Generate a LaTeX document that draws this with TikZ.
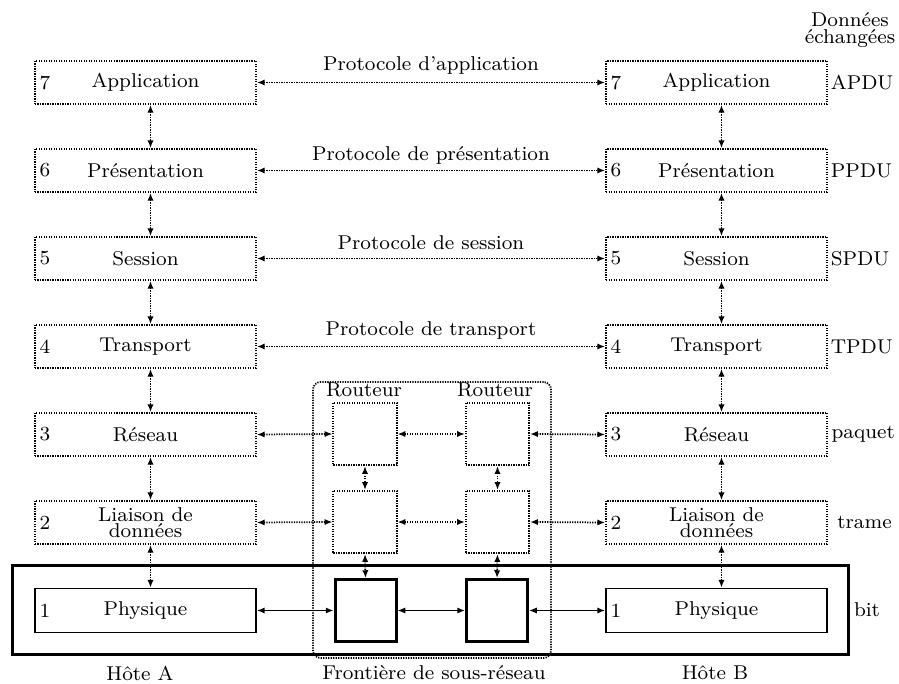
\documentclass[tikz,border=0pt]{standalone}
\usetikzlibrary{arrows.meta}
\begin{document}
\begin{tikzpicture}[x=0.4pt,y=-0.4pt, font=\fontsize{8}{6.6}\selectfont,
 dot/.style={line width=0.7pt, dash pattern=on 0.5pt off 0.5pt},
 layer/.style={dot, draw, minimum width=88.4pt, minimum height=17.2pt, inner sep=0pt, align=center},
 phys/.style={draw, line width=0.7pt, minimum width=88.4pt, minimum height=17.6pt, inner sep=0pt},
 rtr/.style={dot, draw, minimum width=25.4pt, minimum height=25pt, inner sep=0pt},
 prt/.style={draw, line width=1.2pt, minimum width=24.4pt, minimum height=24.8pt, inner sep=0pt},
 tip/.tip={Latex[length=3.1pt,width=2.5pt]},
 darr/.style={tip-tip, dot},
 sarr/.style={tip-tip, line width=0.6pt},
 num/.style={anchor=west, inner sep=2pt},
 side/.style={anchor=west, inner sep=0pt},
 lbl/.style={inner sep=0pt},
]
\useasboundingbox (0,0) rectangle (899,684);

% medium and subnet boundary
\node[draw, line width=1.2pt, minimum width=334pt, minimum height=35.2pt, inner sep=0pt] (medium) at (430.5,610) {};
\node[dot, draw, rounded corners=3pt, minimum width=95.2pt, minimum height=110.4pt, inner sep=0pt] (subnet) at (432,520) {};

% host columns
\foreach \k/\name/\y in {7/Application/82.5, 6/Présentation/170.5, 5/Session/258.5, 4/Transport/346.5, 3/Réseau/434.5, 2/{Liaison de\\données}/522.5}{
  \node[layer] (A\k) at (145.5,\y) {\name};
  \node[num] at (A\k.west) {\k};
  \node[layer] (B\k) at (716.5,\y) {\name};
  \node[num] at (B\k.west) {\k};
}
\node[phys] (A1) at (145.5,610.5) {Physique};
\node[num] at (A1.west) {1};
\node[phys] (B1) at (716.5,610.5) {Physique};
\node[num] at (B1.west) {1};

% routers
\node[rtr] (R3a) at (365,434) {};
\node[rtr] (R3b) at (497.5,434) {};
\node[rtr] (R2a) at (365,522) {};
\node[rtr] (R2b) at (497.5,522) {};
\node[prt] (P1a) at (365.5,610.5) {};
\node[prt] (P1b) at (497,610.5) {};
\node[lbl] (ra) at (364,390) {Routeur};
\node[lbl] (rb) at (495,390) {Routeur};

% vertical arrows
\foreach \a/\b in {7/6,6/5,5/4,4/3,3/2,2/1}{
  \draw[darr] ([xshift=2pt]A\a.south) -- ([xshift=2pt]A\b.north);
  \draw[darr] ([xshift=2pt]B\a.south) -- ([xshift=2pt]B\b.north);
}
\draw[darr] (R3a.south) -- (R2a.north);
\draw[darr] (R3b.south) -- (R2b.north);
\draw[darr] (R2a.south) -- (P1a.north);
\draw[darr] (R2b.south) -- (P1b.north);

% peer protocols
\draw[darr] (A7.east) -- (B7.west);
\draw[darr] (A6.east) -- (B6.west);
\draw[darr] (A5.east) -- (B5.west);
\draw[darr] (A4.east) -- (B4.west);
\node[lbl] (p7) at (431,66) {Protocole d’application};
\node[lbl] (p6) at (431,155) {Protocole de présentation};
\node[lbl] (p5) at (431,243) {Protocole de session};
\node[lbl] (p4) at (431,331) {Protocole de transport};

% network rows
\draw[darr] (A3.east) -- (R3a.west);
\draw[darr] (R3a.east) -- (R3b.west);
\draw[darr] (R3b.east) -- (B3.west);
\draw[darr] (A2.east) -- (R2a.west);
\draw[darr] (R2a.east) -- (R2b.west);
\draw[darr] (R2b.east) -- (B2.west);
\draw[sarr] (A1.east) -- (P1a.west);
\draw[sarr] (P1a.east) -- (P1b.west);
\draw[sarr] (P1b.east) -- (B1.west);

% data units
\node[lbl, align=center, anchor=north, font=\fontsize{8}{7}\selectfont] (du) at (850,12) {Données\\échangées};
\node[side] at ([xshift=1pt]B7.east) {APDU};
\node[side] at ([xshift=1pt]B6.east) {PPDU};
\node[side] at ([xshift=1pt]B5.east) {SPDU};
\node[side] at ([xshift=1pt]B4.east) {TPDU};
\node[side] at ([xshift=1.3pt]B3.east) {paquet};
\node[side] at ([xshift=3.6pt]B2.east) {trame};
\node[side] at ([xshift=1.6pt]medium.east) {bit};

% bottom labels
\node[lbl] (ha) at (140,673) {Hôte A};
\node[lbl] (fr) at (434,673) {Frontière de sous-réseau};
\node[lbl] (hb) at (715,673) {Hôte B};
\end{tikzpicture}
\end{document}
